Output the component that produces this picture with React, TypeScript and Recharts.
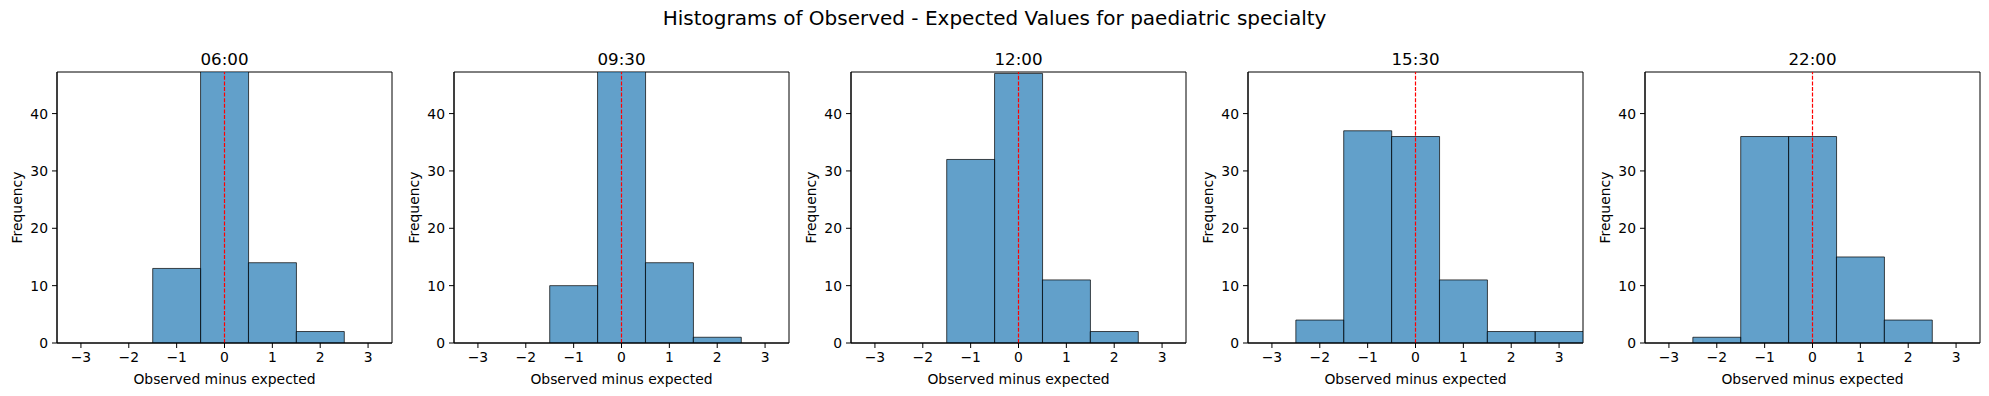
import React from "react";
import { BarChart, Bar, XAxis, YAxis, ReferenceLine, ReferenceArea, Label } from "recharts";

const suptitle = "Histograms of Observed - Expected Values for paediatric specialty";
const bins = [-3, -2, -1, 0, 1, 2, 3];
const xTicks = [-3, -2, -1, 0, 1, 2, 3];
const yTicks = [0, 10, 20, 30, 40];
const panelTitles = ["06:00", "09:30", "12:00", "15:30", "22:00"];

// counts per bin (-3..3), centre bars clipped at the top in the first three panels
const counts0600 = [0, 0, 13, 63, 14, 2, 0];
const counts0930 = [0, 0, 10, 67, 14, 1, 0];
const counts1200 = [0, 0, 32, 47, 11, 2, 0];
const counts1530 = [0, 4, 37, 36, 11, 2, 2];
const counts2200 = [0, 1, 36, 36, 15, 4, 0];

const allCounts = [counts0600, counts0930, counts1200, counts1530, counts2200];

const Y_MAX = 47.25;
const PANEL_W = 397;
const FONT = "'DejaVu Sans', sans-serif";

const fmt = (v: number) => (v < 0 ? `\u2212${-v}` : `${v}`);

function Panel({ counts }: { counts: number[] }) {
  const data = bins.map((b, i) => ({ bin: b, count: counts[i] }));
  const tick = { fontSize: 13.9, fill: "#000", fontFamily: FONT };
  return (
    <BarChart
      width={PANEL_W}
      height={396}
      data={data}
      margin={{ top: 72, right: 5, bottom: 23, left: 0 }}
      barCategoryGap={0}
      barGap={0}
    >
      <XAxis
        dataKey="bin"
        type="number"
        domain={[-3.5, 3.5]}
        ticks={xTicks}
        allowDataOverflow
        tickFormatter={fmt}
        tick={tick}
        tickSize={5}
        tickMargin={4}
        height={30}
        stroke="#000"
      >
        <Label
          value="Observed minus expected"
          position="center"
          dy={21}
          style={{ fontSize: 13.9, fill: "#000", fontFamily: FONT }}
        />
      </XAxis>
      <YAxis
        type="number"
        domain={[0, Y_MAX]}
        ticks={yTicks}
        allowDataOverflow
        tick={tick}
        tickSize={5}
        tickMargin={4}
        width={57}
        stroke="#000"
      >
        <Label
          value="Frequency"
          angle={-90}
          position="center"
          dx={-11.5}
          style={{ fontSize: 13.9, fill: "#000", fontFamily: FONT }}
        />
      </YAxis>
      <Bar
        dataKey="count"
        fill="#1f77b4"
        fillOpacity={0.7}
        stroke="#000"
        strokeOpacity={0.7}
        strokeWidth={1}
        isAnimationActive={false}
      />
      <ReferenceLine x={0} stroke="red" strokeWidth={1.2} strokeDasharray="4 1.6" />
      <ReferenceArea x1={-3.5} x2={3.5} y1={0} y2={Y_MAX} fill="none" stroke="#000" strokeWidth={1} />
    </BarChart>
  );
}

export default function App() {
  return (
    <div
      style={{
        position: "absolute",
        left: 0,
        top: 0,
        width: 1989,
        height: 396,
        background: "#fff",
        fontFamily: FONT,
      }}
    >
      {allCounts.map((c, i) => (
        <div key={panelTitles[i]} style={{ position: "absolute", left: PANEL_W * i, top: 0 }}>
          <Panel counts={c} />
        </div>
      ))}
      <svg
        width={1989}
        height={396}
        style={{ position: "absolute", left: 0, top: 0, pointerEvents: "none" }}
      >
        <text x={994.5} y={25} textAnchor="middle" fontSize={20} fontFamily={FONT} fill="#000">
          {suptitle}
        </text>
        {panelTitles.map((t, i) => (
          <text
            key={t}
            x={57 + 167.5 + PANEL_W * i}
            y={65}
            textAnchor="middle"
            fontSize={16.7}
            fontFamily={FONT}
            fill="#000"
          >
            {t}
          </text>
        ))}
      </svg>
    </div>
  );
}
